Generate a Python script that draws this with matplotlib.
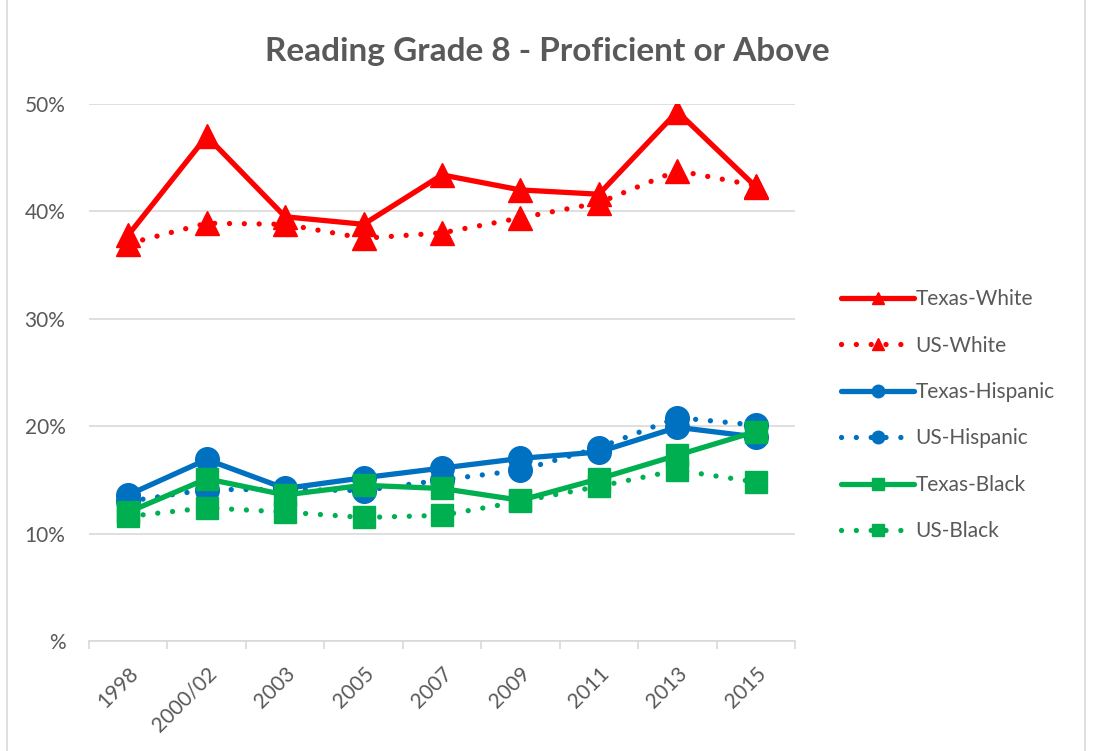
import numpy as np
import matplotlib.pyplot as plt
from matplotlib.lines import Line2D

years = ['1998', '2000/02', '2003', '2005', '2007', '2009', '2011', '2013', '2015']
tx_white = [37.8, 47.0, 39.5, 38.8, 43.4, 42.0, 41.6, 49.3, 42.3]
us_white = [37.0, 38.9, 38.8, 37.5, 38.0, 39.4, 40.8, 43.8, 42.4]
tx_hisp = [13.6, 16.9, 14.2, 15.2, 16.1, 17.0, 17.6, 19.9, 19.0]
us_hisp = [13.0, 14.1, 14.1, 14.0, 15.0, 15.9, 18.0, 20.8, 20.1]
tx_black = [12.0, 15.1, 13.6, 14.5, 14.2, 13.1, 15.1, 17.3, 19.5]
us_black = [11.6, 12.4, 12.0, 11.5, 11.7, 13.0, 14.4, 15.9, 14.8]

red = '#FF0000'
blue = '#0070C0'
green = '#00B050'
txt = '#595959'
font = 'Lato'

fig = plt.figure(figsize=(10.94, 7.51), dpi=100)
ax = fig.add_axes([0.0814, 0.1465, 0.6453, 0.715])
x = np.arange(len(years))

dot = (0, (0.01, 2.8))
series = [
    ('Texas-White', tx_white, red, '-', '^'),
    ('US-White', us_white, red, dot, '^'),
    ('Texas-Hispanic', tx_hisp, blue, '-', 'o'),
    ('US-Hispanic', us_hisp, blue, dot, 'o'),
    ('Texas-Black', tx_black, green, '-', 's'),
    ('US-Black', us_black, green, dot, 's'),
]
handles = []
for name, vals, c, ls, m in series:
    ms = 17 if m != 's' else 16
    ax.plot(x, np.array(vals) / 100, color=c, linestyle=ls, linewidth=3.8,
            marker=m, markersize=ms, solid_capstyle='round',
            dash_capstyle='round', solid_joinstyle='round')
    handles.append(Line2D([], [], color=c, linestyle=ls, linewidth=3.8,
                          marker=m, markersize=9, solid_capstyle='round',
                          dash_capstyle='round', label=name))

ax.set_xlim(-0.5, len(years) - 0.5)
ax.set_ylim(0, 0.5)
ax.set_yticks([0, 0.1, 0.2, 0.3, 0.4, 0.5])
ax.set_yticklabels(['%', '10%', '20%', '30%', '40%', '50%'])
ax.grid(axis='y', color='#D9D9D9', linewidth=1.2)
ax.set_axisbelow(True)
for s in ['top', 'right', 'left']:
    ax.spines[s].set_visible(False)
ax.spines['bottom'].set_color('#D9D9D9')
ax.spines['bottom'].set_linewidth(1.2)
ax.tick_params(axis='y', length=0, labelsize=15, labelcolor=txt, pad=17)
ax.set_xticks(x)
ax.set_xticklabels(years, rotation=45, ha='right', va='top', rotation_mode='anchor')
ax.tick_params(axis='x', length=0, labelsize=15, labelcolor=txt, pad=16)
ax.set_xticks(np.arange(-0.5, len(years)), minor=True)
ax.tick_params(axis='x', which='minor', length=6, color='#D9D9D9', width=1.2)
for lab in ax.get_xticklabels() + ax.get_yticklabels():
    lab.set_family(font)

fig.text(0.5, 0.932, 'Reading Grade 8 - Proficient or Above', ha='center', va='center',
         fontsize=24, fontweight='bold', color=txt, family=font)

leg = fig.legend(handles=handles, loc='upper left', bbox_to_anchor=(0.752, 0.64),
                 frameon=False, handlelength=3.5, handletextpad=0.05,
                 labelspacing=1.27, prop={'family': font, 'size': 15})
for t in leg.get_texts():
    t.set_color(txt)

fig.add_artist(Line2D([0.006, 0.006], [0, 1], color='#D9D9D9', linewidth=1.2,
                      transform=fig.transFigure))
fig.add_artist(Line2D([0.992, 0.992], [0, 1], color='#D9D9D9', linewidth=1.2,
                      transform=fig.transFigure))

fig.savefig('out.png', dpi=100)
